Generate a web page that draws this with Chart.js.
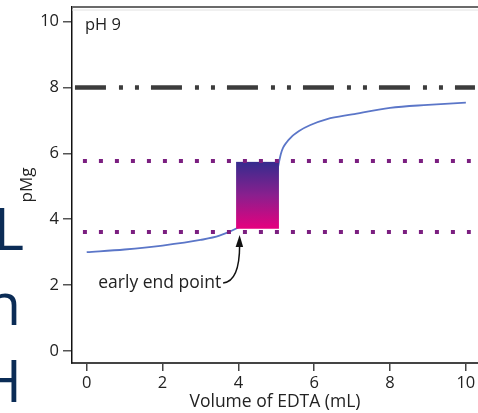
<!DOCTYPE html>
<html><head><meta charset="utf-8">
<script src="https://cdn.jsdelivr.net/npm/chart.js@4/dist/chart.umd.min.js"></script>
<style>html,body{margin:0;padding:0;background:#fff;}#wrap{width:478px;height:413px;position:relative}</style>
</head><body><div id="wrap"><canvas id="c" width="478" height="413"></canvas></div>
<script>
// ---- data ----
const volume = [0, 1, 2, 3, 3.5, 4, 4.5, 4.9, 5.0, 5.07, 5.12, 5.18, 5.27, 5.37, 5.45, 5.6, 5.9, 6.34, 7, 8, 9, 10];
const pMg    = [3.0, 3.08, 3.2, 3.37, 3.5, 3.75, 4.1, 4.8, 5.3, 5.72, 5.98, 6.17, 6.33, 6.46, 6.55, 6.68, 6.86, 7.04, 7.18, 7.38, 7.47, 7.54];
const xTicks = [0, 2, 4, 6, 8, 10];
const yTicks = [0, 2, 4, 6, 8, 10];
const refLineX = [-0.31, 10.24];   // dash-dot-dot line extent
const refLineY = 8;
const dotLineX = [-0.1, 10.13];    // dotted lines extent
const upperDotY = 5.77;
const lowerDotY = 3.61;
const rangeX = [3.94, 5.07];       // gradient box
const rangeY = [3.71, 5.74];
const arrowTip = [4.02, 3.52];
const panelLabel = 'pH 9';
const noteText = 'early end point';
const sideLetters = ['L', 'n', 'H'];

const FONT = '"Open Sans", Lato, sans-serif';
const TXT = '#222222';

const pts = (xs, ys) => xs.map((x, i) => ({x, y: Array.isArray(ys) ? ys[i] : ys}));

const extras = {
  id: 'extras',
  afterDatasetDraw(chart, args) {
    if (args.index !== 3) return;
    const {ctx, scales: {x, y}} = chart;
    const l = x.getPixelForValue(rangeX[0]), r = x.getPixelForValue(rangeX[1]);
    const t = y.getPixelForValue(rangeY[1]), b = y.getPixelForValue(rangeY[0]);
    const g = ctx.createLinearGradient(0, t, 0, b);
    g.addColorStop(0, '#352c8e');
    g.addColorStop(0.5, '#8a1f8e');
    g.addColorStop(1, '#e6007e');
    ctx.save();
    ctx.fillStyle = g;
    ctx.fillRect(l, t, r - l, b - t);
    ctx.restore();
  },
  afterDraw(chart) {
    const {ctx, chartArea: ca, scales: {x, y}} = chart;
    ctx.save();
    // top frame
    ctx.strokeStyle = '#6a6a6a'; ctx.lineWidth = 2;
    ctx.beginPath(); ctx.moveTo(ca.left, ca.top); ctx.lineTo(ca.right, ca.top); ctx.stroke();
    ctx.strokeStyle = '#e2e2e2'; ctx.lineWidth = 1;
    ctx.beginPath(); ctx.moveTo(ca.left, ca.top + 3); ctx.lineTo(ca.right, ca.top + 3); ctx.stroke();
    // panel label
    ctx.fillStyle = TXT; ctx.font = '16.5px ' + FONT; ctx.textBaseline = 'alphabetic'; ctx.textAlign = 'left';
    ctx.fillText(panelLabel, ca.left + 13, ca.top + 23);
    // annotation
    const tx = x.getPixelForValue(arrowTip[0]), ty = y.getPixelForValue(arrowTip[1]);
    ctx.font = '17.5px ' + FONT; ctx.textAlign = 'right';
    ctx.fillText(noteText, tx - 18, ty + 53);
    ctx.strokeStyle = '#111'; ctx.lineWidth = 1.5;
    ctx.beginPath();
    ctx.moveTo(tx - 16, ty + 48);
    ctx.bezierCurveTo(tx - 6, ty + 47, tx + 0.5, ty + 35, tx + 0.5, ty + 10);
    ctx.stroke();
    ctx.fillStyle = '#111';
    ctx.beginPath();
    ctx.moveTo(tx + 0.5, ty); ctx.lineTo(tx - 3.5, ty + 12); ctx.lineTo(tx + 4, ty + 12); ctx.closePath(); ctx.fill();
    // cropped side letters
    ctx.fillStyle = '#0b2c56'; ctx.font = '58px "Open Sans", sans-serif'; ctx.textAlign = 'right';
    ctx.fillText(sideLetters[0], 24, 250);
    ctx.fillText(sideLetters[1], 21, 325);
    ctx.fillText(sideLetters[2], 22, 402);
    ctx.restore();
  }
};

new Chart(document.getElementById('c'), {
  type: 'line',
  data: {
    datasets: [
      {data: pts(refLineX, refLineY), borderColor: '#3c3c3c', borderWidth: 4.5, borderDash: [31, 13, 4, 12, 4, 12], borderCapStyle: 'butt', pointRadius: 0},
      {data: pts(dotLineX, upperDotY), borderColor: '#7b1f80', borderWidth: 4, borderDash: [4, 12], borderCapStyle: 'butt', pointRadius: 0},
      {data: pts(dotLineX, lowerDotY), borderColor: '#7b1f80', borderWidth: 4, borderDash: [4, 12], borderCapStyle: 'butt', pointRadius: 0},
      {data: pts(volume, pMg), borderColor: '#5b76c8', borderWidth: 1.8, cubicInterpolationMode: 'monotone', pointRadius: 0}
    ]
  },
  options: {
    responsive: false, animation: false,
    layout: {padding: {top: 7, right: 0, left: 0, bottom: 0}},
    plugins: {legend: {display: false}, tooltip: {enabled: false}},
    scales: {
      x: {
        type: 'linear', min: -0.388, max: 10.32,
        afterBuildTicks: s => { s.ticks = xTicks.map(v => ({value: v})); },
        afterFit: s => { s.height = 50; s.paddingLeft = 0; s.paddingRight = 0; },
        grid: {drawOnChartArea: false, drawTicks: true, tickLength: 8, color: '#444', lineWidth: 1.5},
        border: {color: '#444', width: 2},
        ticks: {font: {family: FONT, size: 16.5}, color: TXT, padding: 2, maxRotation: 0},
        title: {display: true, text: 'Volume of EDTA (mL)', font: {family: FONT, size: 17.5, lineHeight: 1.2}, color: TXT, padding: {top: 0, bottom: 0}}
      },
      y: {
        type: 'linear', min: -0.364, max: 10.44,
        afterBuildTicks: s => { s.ticks = yTicks.map(v => ({value: v})); },
        afterFit: s => { s.width = 72; s.paddingTop = 0; s.paddingBottom = 0; },
        grid: {drawOnChartArea: false, drawTicks: true, tickLength: 9, color: '#555', lineWidth: 1.5},
        border: {color: '#111', width: 1.5},
        ticks: {font: {family: FONT, size: 16.5}, color: TXT, padding: 4},
        title: {display: true, text: 'pMg', font: {family: FONT, size: 17, lineHeight: 1.2}, color: TXT, padding: {top: 17, bottom: 0}}
      }
    }
  },
  plugins: [extras]
});
</script>
</body></html>
